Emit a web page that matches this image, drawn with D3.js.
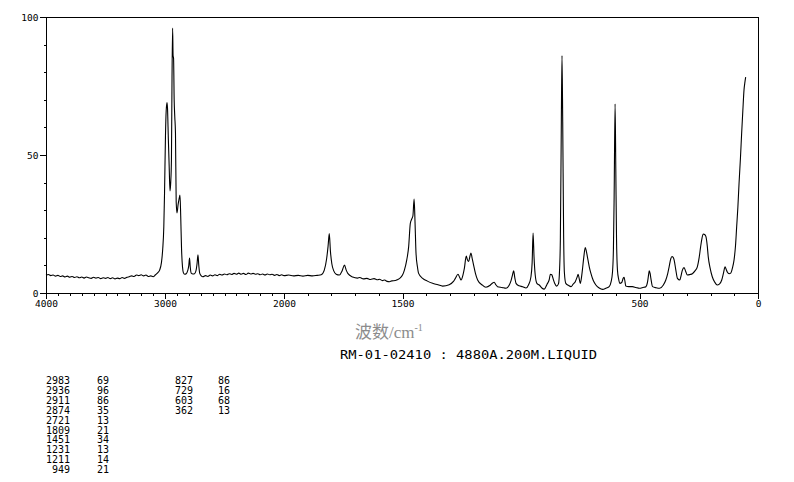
<!DOCTYPE html>
<html><head><meta charset="utf-8">
<script src="https://cdn.jsdelivr.net/npm/d3@7/dist/d3.min.js"></script>
<style>body{margin:0;background:#fff}svg{display:block}</style>
</head><body>
<svg id="c" width="794" height="482"></svg>
<script>
// ---- data ----
const specWn = [4000,3980,3960,3940,3920,3900,3880,3860,3840,3820,3800,3780,3760,3740,3720,3700,3680,3660,3640,3620,3600,3580,3560,3540,3520,3500,3480,3460,3440,3420,3400,3380,3360,3340,3320,3300,3280,3260,3240,3220,3200,3180,3160,3140,3120,3100,3080,3060,3046,3030,3019,3010,3004,2996,2990,2983,2979,2972,2965,2958,2952,2946,2941,2936,2932,2928,2923,2918,2912,2906,2899,2890,2882,2874,2868,2861,2853,2845,2835,2822,2810,2800,2794,2788,2780,2765,2752,2740,2731,2723,2716,2708,2695,2682,2660,2640,2620,2600,2580,2560,2540,2520,2500,2480,2460,2440,2420,2400,2380,2360,2340,2320,2300,2280,2260,2240,2220,2200,2180,2160,2140,2120,2100,2080,2060,2040,2020,2000,1980,1960,1940,1920,1900,1880,1860,1843,1830,1820,1814,1809,1804,1798,1790,1780,1766,1755,1745,1737,1730,1710,1690,1680,1665,1650,1635,1620,1605,1597,1585,1575,1565,1555,1545,1530,1520,1512,1500,1492,1482,1474,1467,1460,1456,1451,1447,1443,1437,1432,1415,1395,1373,1350,1331,1303,1285,1277,1266,1258,1253,1245,1239,1231,1226,1221,1215,1211,1206,1200,1192,1183,1165,1148,1130,1120,1113,1106,1099,1080,1063,1050,1042,1036,1031,1026,1021,1008,993,979,968,958,953,949,945,940,933,923,912,902,890,881,876,870,864,858,850,842,837,834,830,827,824,820,817,811,800,789,780,771,763,759,755,750,745,741,735,729,724,720,712,705,695,684,670,656,640,628,620,614,610,607,603,600,597,593,588,583,575,569,565,561,558,545,530,515,501,485,473,466,461,459,455,452,445,430,415,400,389,381,375,368,363,358,354,347,340,330,324,319,312,305,298,287,277,266,256,248,242,236,231,225,220,214,210,202,193,183,172,163,153,145,139,134,129,122,115,108,101,95,90,85,80,74,69,64,59,55,52];
const specVal = [6.4,6.7,6.3,6.5,6.1,6.4,6.0,6.2,5.8,6.1,5.7,6.0,5.6,5.9,5.5,5.8,5.4,5.8,5.5,5.3,5.7,5.4,5.6,5.2,5.5,5.3,5.6,5.2,5.5,5.1,5.4,5.2,5.6,5.3,5.7,5.9,6.2,6.0,6.5,6.3,6.6,6.2,6.5,6.0,6.2,5.9,6.6,7.4,8.2,11,16,24,36,57,66,69,67,56,46,37,40,48,78,96,86,85,70,64,58,33,29,32,34,35.5,28,16,9.5,7.3,6.8,7.0,8.0,10,12.7,9.5,7.2,6.9,7.0,8.0,10.5,13.8,10,7.1,6.2,5.9,6.3,6.0,6.5,6.2,6.6,6.3,6.8,6.5,6.9,6.6,7.0,6.7,7.1,6.8,7.2,6.8,7.1,6.7,7.2,6.9,7.1,6.8,7.0,6.6,6.9,6.5,6.9,6.6,6.8,6.4,6.7,6.3,6.6,6.3,6.5,6.2,6.4,6.1,6.4,6.2,6.4,6.6,8.3,12.5,17,21.5,15,10.5,8,6.8,6.5,8.0,10.1,8.2,7.0,5.8,5.4,5.6,5.1,5.3,4.9,5.2,4.8,5.0,4.5,4.7,4.2,4.1,4.4,4.5,4.9,5.3,6.5,8.3,12,16.8,25.2,27,28,34,25.3,14.5,9.5,7.1,5.3,4.3,3.5,3.0,2.5,3.0,4.2,5.3,6.8,5.5,4.7,6.5,8.9,13.4,12,11.4,13.5,14.5,12.5,10.1,7,4.7,3.0,2.1,2.8,3.6,3.9,3.0,2.3,2.0,1.7,2.8,4.5,6.5,8.0,5.5,3.5,2.6,2.3,1.8,3.0,5.9,11,21.7,13,6.5,3.5,2.9,1.8,1.4,3.2,4.8,6.8,6.6,5.0,3.5,2.5,3.3,9,19,60,86,62,20,7.5,3.5,2.8,2.3,3.2,4.1,5.8,6.8,5.5,3.5,5.5,8.3,13,16.5,15,13.2,9.5,7.1,4.5,2.9,1.8,1.3,1.8,2.3,4.0,7.5,16,35,68.5,45,20,8.3,5,3.5,3.8,5.3,5.7,4.0,2.5,2.3,2.3,2.0,1.7,2.0,2.3,4.0,7.0,8.0,7.0,5.3,2.3,1.9,1.7,2.8,4.7,7,9.5,12.4,13.2,12.9,12,8.5,5.3,4.7,6.5,8.3,9.2,7.8,6.5,6.7,7.0,8,9.5,13,16.8,20,21.4,21.2,20.5,17,13.2,9.0,5.9,4.0,2.9,3.2,4.7,7.5,9.5,8.5,7.5,7.0,7.2,9.0,12,17,24,31,39.7,49,57.9,66,73.6,76.5,78.2];
const xBreaks = [4000, 2000, 0];
const xMajorTicks = [4000, 3000, 2000, 1500, 500, 0];
const xMinorTicks = d3.range(4000, -1, -100);
const yMajorTicks = [0, 50, 100];
const yMinorTicks = d3.range(0, 101, 10);
const peakWn  = [2983, 2936, 2911, 2874, 2721, 1809, 1451, 1231, 1211, 949, 827, 729, 603, 362];
const peakInt = [69, 96, 86, 35, 13, 21, 34, 13, 14, 21, 86, 16, 68, 13];
const xTitle = "波数/cm";
const xTitleSup = "-1";
const sampleTitle = "RM-01-02410 : 4880A.200M.LIQUID";

// ---- drawing ----
const svg = d3.select("#c");
const mono = "'DejaVu Sans Mono', 'Liberation Mono', monospace";
const x = d3.scaleLinear().domain(xBreaks).range([46, 284, 758]);
const y = d3.scaleLinear().domain([0, 100]).range([293, 17]);

svg.append("rect").attr("width", 794).attr("height", 482).attr("fill", "#fff");

// frame
svg.append("rect").attr("x", 46.5).attr("y", 17.5).attr("width", 712).attr("height", 276)
  .attr("fill", "none").attr("stroke", "#000").attr("stroke-width", 1).attr("shape-rendering", "crispEdges");

// x axis
const gxMinor = svg.append("g").attr("transform", "translate(0,293)")
  .call(d3.axisBottom(x).tickValues(xMinorTicks).tickSize(3).tickSizeOuter(0).tickFormat(""));
const gxMajor = svg.append("g").attr("transform", "translate(0,293)")
  .call(d3.axisBottom(x).tickValues(xMajorTicks).tickSize(6).tickSizeOuter(0).tickPadding(1).tickFormat(d3.format("d")));
// y axis
const gyMinor = svg.append("g").attr("transform", "translate(46,0)")
  .call(d3.axisLeft(y).tickValues(yMinorTicks).tickSize(2).tickSizeOuter(0).tickFormat(""));
const gyMajor = svg.append("g").attr("transform", "translate(46,0)")
  .call(d3.axisLeft(y).tickValues(yMajorTicks).tickSize(6).tickSizeOuter(0).tickPadding(1.5).tickFormat(d3.format("d")));
[gxMinor, gxMajor, gyMinor, gyMajor].forEach(g => {
  g.attr("font-family", mono).attr("font-size", 9.5);
  g.selectAll("line,path").attr("stroke", "#000").attr("shape-rendering", "crispEdges");
  g.selectAll("text").attr("fill", "#000");
});

// spectrum
const pts = specWn.map((w, i) => [w, specVal[i]]);
const line = d3.line().x(d => x(d[0])).y(d => y(d[1])).curve(d3.curveMonotoneX);
svg.append("path").datum(pts).attr("d", line)
  .attr("fill", "none").attr("stroke", "#000").attr("stroke-width", 1.1).attr("stroke-linejoin", "round");

// axis title
const t = svg.append("text").attr("x", 355).attr("y", 338)
  .attr("font-family", "'Liberation Serif', 'Noto Sans CJK SC', serif").attr("font-size", 17).attr("fill", "#8c8c8c");
t.append("tspan").text(xTitle);
t.append("tspan").attr("font-size", 10).attr("dy", -7).text(xTitleSup);

svg.append("text").attr("x", 340).attr("y", 358.5).attr("font-family", mono).attr("font-size", 12.5)
  .attr("textLength", 257).attr("lengthAdjust", "spacingAndGlyphs").attr("fill", "#000").text(sampleTitle);

// peak table
const rows = peakWn.map((w, i) => ({w, v: peakInt[i], col: i < 10 ? 0 : 1, r: i < 10 ? i : i - 10}));
const tbl = svg.append("g").attr("font-family", mono).attr("font-size", 10).attr("fill", "#000");
const colX = [[70, 97], [193, 218]];
tbl.selectAll("text.w").data(rows).join("text").attr("class", "w")
  .attr("x", d => colX[d.col][0]).attr("y", d => 384 + d.r * 9.9).attr("text-anchor", "end").text(d => d.w);
tbl.selectAll("text.v").data(rows).join("text").attr("class", "v")
  .attr("x", d => colX[d.col][1]).attr("y", d => 384 + d.r * 9.9).text(d => d.v);
</script>
</body></html>
